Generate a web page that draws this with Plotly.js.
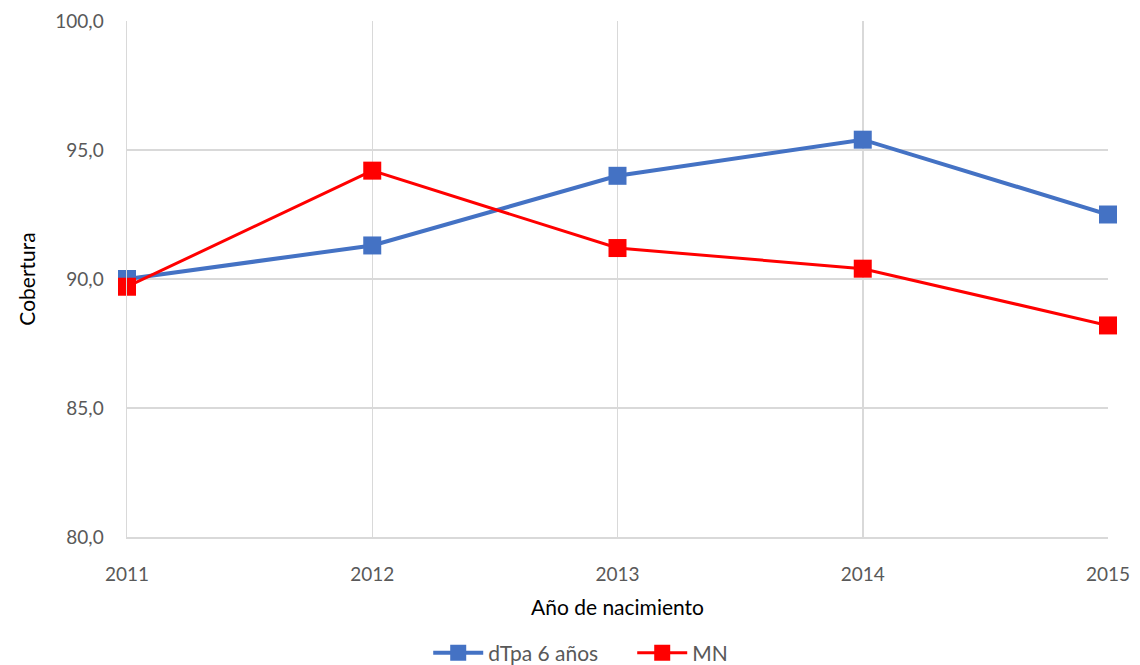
<!DOCTYPE html>
<html>
<head>
<meta charset="utf-8">
<script src="https://cdn.plot.ly/plotly-3.0.1.min.js"></script>
<style>html,body{margin:0;padding:0;background:#fff;}#chart{width:1140px;height:665px;}</style>
</head>
<body>
<div id="chart"></div>
<script>
const years = [2011, 2012, 2013, 2014, 2015];
const dtpa = [90.0, 91.3, 94.0, 95.4, 92.5];
const mn = [89.7, 94.2, 91.2, 90.4, 88.2];
const seriesNames = ["dTpa 6 años", "MN"];

const traces = [
  {x: years, y: dtpa, name: seriesNames[0], type: 'scatter', mode: 'lines+markers',
   line: {color: '#4472C4', width: 4}, marker: {symbol: 'square', size: 18, color: '#4472C4'}, cliponaxis: false},
  {x: years, y: mn, name: seriesNames[1], type: 'scatter', mode: 'lines+markers',
   line: {color: '#FF0000', width: 3}, marker: {symbol: 'square', size: 18, color: '#FF0000'}, cliponaxis: false}
];

const layout = {
  width: 1140, height: 665,
  margin: {l: 127, r: 32, t: 21, b: 128, autoexpand: false},
  paper_bgcolor: '#fff', plot_bgcolor: '#fff',
  separators: ',.',
  font: {family: 'Lato, "Open Sans", sans-serif', color: '#595959', size: 19},
  xaxis: {
    range: [2011, 2015], tickvals: years, ticktext: years.map(String),
    showgrid: true, gridcolor: '#D9D9D9', gridwidth: 1.5, zeroline: false,
    showline: true, linecolor: '#D9D9D9', linewidth: 1.5, ticks: '', ticklabelstandoff: 20,
    tickfont: {size: 19, color: '#595959'}, automargin: false,
    title: {text: 'Año de nacimiento', font: {size: 21, color: '#000'}, standoff: 16}
  },
  yaxis: {
    range: [80, 100], dtick: 5, tick0: 80, tickformat: '.1f',
    showgrid: true, gridcolor: '#D9D9D9', gridwidth: 1.5, zeroline: false,
    showline: true, linecolor: '#D9D9D9', linewidth: 1.5, ticks: '', ticklabelstandoff: 18,
    tickfont: {size: 19, color: '#595959'}, automargin: false,
    title: {text: 'Cobertura', font: {size: 21, color: '#000'}, standoff: 14}
  },
  legend: {orientation: 'h', x: 0.515, xanchor: 'center', y: -0.225, yanchor: 'middle',
    font: {size: 21, color: '#595959'}, traceorder: 'normal', itemwidth: 50, entrywidth: 139},
  showlegend: true
};

Plotly.newPlot('chart', traces, layout, {displayModeBar: false, staticPlot: true});
</script>
</body>
</html>
